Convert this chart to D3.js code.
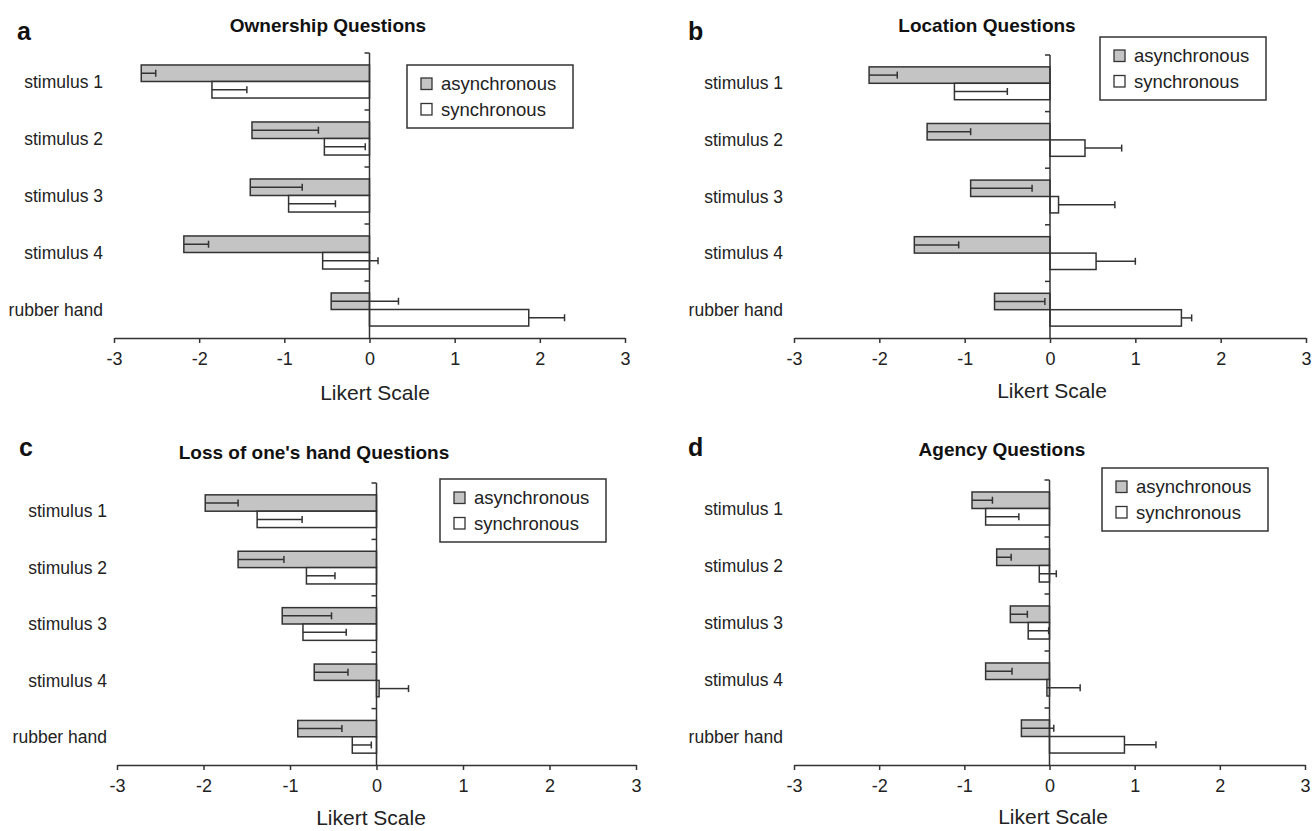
<!DOCTYPE html>
<html>
<head>
<meta charset="utf-8">
<script src="https://cdn.jsdelivr.net/npm/d3@7"></script>
<style>
  html, body { margin: 0; padding: 0; background: #fff; }
  svg { display: block; font-family: "Liberation Sans", Arial, sans-serif; }
  .axis path, .axis line { stroke: #333; stroke-width: 1.5; }
  .axis text { font-size: 18px; fill: #222; }
</style>
</head>
<body>
<svg id="chart" width="1312" height="831"></svg>
<script>
  const categories = ["stimulus 1", "stimulus 2", "stimulus 3", "stimulus 4", "rubber hand"];
  const seriesNames = ["asynchronous", "synchronous"];
  const xTickValues = [-3, -2, -1, 0, 1, 2, 3];

  const ownershipAsync = [-2.68, -1.38, -1.40, -2.18, -0.45];
  const ownershipAsyncErr = [0.17, 0.78, 0.61, 0.29, 0.79];
  const ownershipSync = [-1.85, -0.53, -0.95, -0.55, 1.87];
  const ownershipSyncErr = [0.41, 0.48, 0.55, 0.65, 0.42];

  const locationAsync = [-2.12, -1.44, -0.93, -1.59, -0.65];
  const locationAsyncErr = [0.33, 0.51, 0.72, 0.52, 0.59];
  const locationSync = [-1.12, 0.41, 0.10, 0.54, 1.54];
  const locationSyncErr = [0.62, 0.43, 0.66, 0.46, 0.12];

  const lossAsync = [-1.98, -1.60, -1.09, -0.72, -0.91];
  const lossAsyncErr = [0.38, 0.53, 0.57, 0.39, 0.51];
  const lossSync = [-1.38, -0.81, -0.85, 0.03, -0.28];
  const lossSyncErr = [0.52, 0.33, 0.50, 0.34, 0.22];

  const agencyAsync = [-0.91, -0.62, -0.46, -0.75, -0.33];
  const agencyAsyncErr = [0.24, 0.17, 0.20, 0.31, 0.38];
  const agencySync = [-0.75, -0.12, -0.25, -0.03, 0.88];
  const agencySyncErr = [0.39, 0.20, 0.24, 0.39, 0.37];

  const FILLS = ["#c4c4c4", "#ffffff"];
  const INK = "#333";

  const panels = [
    {
      letter: "a", title: "Ownership Questions",
      values: [ownershipAsync, ownershipSync], errors: [ownershipAsyncErr, ownershipSyncErr],
      x0: 114, x1: 625, top: 53, bottom: 338, labelRight: 103,
      titleX: 328, titleY: 32, letterX: 17, letterY: 40,
      legendX: 407, legendY: 65, likertX: 375, likertY: 400,
    },
    {
      letter: "b", title: "Location Questions",
      values: [locationAsync, locationSync], errors: [locationAsyncErr, locationSyncErr],
      x0: 794, x1: 1306, top: 55, bottom: 338, labelRight: 783,
      titleX: 987, titleY: 32, letterX: 688, letterY: 40,
      legendX: 1100, legendY: 37, likertX: 1052, likertY: 398,
    },
    {
      letter: "c", title: "Loss of one's hand Questions",
      values: [lossAsync, lossSync], errors: [lossAsyncErr, lossSyncErr],
      x0: 117, x1: 636, top: 483, bottom: 765, labelRight: 107,
      titleX: 314, titleY: 459, letterX: 19, letterY: 456,
      legendX: 440, legendY: 479, likertX: 371, likertY: 825,
    },
    {
      letter: "d", title: "Agency Questions",
      values: [agencyAsync, agencySync], errors: [agencyAsyncErr, agencySyncErr],
      x0: 794, x1: 1305, top: 480, bottom: 765, labelRight: 783,
      titleX: 1002, titleY: 456, letterX: 688, letterY: 456,
      legendX: 1102, legendY: 468, likertX: 1053, likertY: 824,
    },
  ];

  const svg = d3.select("#chart");

  function drawPanel(p) {
    const g = svg.append("g");

    const x = d3.scaleLinear().domain([-3, 3]).range([p.x0, p.x1]);
    const y = d3.scaleBand().domain(categories).range([p.top, p.bottom])
      .paddingInner(0.42).paddingOuter(0.21);
    const ySub = d3.scaleBand().domain(seriesNames).range([0, y.bandwidth()]);

    // bars
    seriesNames.forEach((s, si) => {
      g.append("g").selectAll("rect")
        .data(categories)
        .join("rect")
        .attr("x", (c, i) => x(Math.min(0, p.values[si][i])))
        .attr("y", (c) => y(c) + ySub(s))
        .attr("width", (c, i) => Math.abs(x(p.values[si][i]) - x(0)))
        .attr("height", ySub.bandwidth())
        .attr("fill", FILLS[si])
        .attr("stroke", INK)
        .attr("stroke-width", 1.5);
    });

    // error bars, always drawn toward the positive side
    seriesNames.forEach((s, si) => {
      const eg = g.append("g").attr("stroke", INK).attr("stroke-width", 1.5);
      categories.forEach((c, i) => {
        const v = p.values[si][i];
        const e = v + p.errors[si][i];
        const cy = y(c) + ySub(s) + ySub.bandwidth() / 2;
        eg.append("line").attr("x1", x(v)).attr("x2", x(e)).attr("y1", cy).attr("y2", cy);
        eg.append("line").attr("x1", x(e)).attr("x2", x(e)).attr("y1", cy - 3.5).attr("y2", cy + 3.5);
      });
    });

    // x axis
    g.append("g")
      .attr("class", "axis")
      .attr("transform", `translate(0,${p.bottom})`)
      .call(d3.axisBottom(x).tickValues(xTickValues).tickFormat(d3.format("d"))
        .tickSize(5).tickSizeOuter(0).tickPadding(9))
      .call((a) => a.selectAll("text").text((d) => (d < 0 ? "-" + Math.abs(d) : d)));

    // y axis at zero with ticks on category boundaries
    const step = y.step();
    const ya = g.append("g").attr("stroke", INK).attr("stroke-width", 1.5);
    ya.append("line").attr("x1", x(0)).attr("x2", x(0)).attr("y1", p.top).attr("y2", p.bottom);
    categories.forEach((c, i) => {
      const ty = p.top + i * step;
      ya.append("line").attr("x1", x(0) - 5).attr("x2", x(0)).attr("y1", ty).attr("y2", ty);
    });

    // category labels
    g.append("g").selectAll("text")
      .data(categories)
      .join("text")
      .attr("x", p.labelRight)
      .attr("y", (c) => y(c) + y.bandwidth() / 2)
      .attr("dy", "0.35em")
      .attr("text-anchor", "end")
      .attr("font-size", 17.5)
      .attr("fill", "#222")
      .text((c) => c);

    // titles
    g.append("text").attr("x", p.titleX).attr("y", p.titleY)
      .attr("text-anchor", "middle").attr("font-size", 19).attr("font-weight", "bold")
      .attr("fill", "#111").text(p.title);
    g.append("text").attr("x", p.letterX).attr("y", p.letterY)
      .attr("font-size", 25).attr("font-weight", "bold").attr("fill", "#111").text(p.letter);
    g.append("text").attr("x", p.likertX).attr("y", p.likertY)
      .attr("text-anchor", "middle").attr("font-size", 21).attr("fill", "#222").text("Likert Scale");

    // legend
    const lg = g.append("g").attr("transform", `translate(${p.legendX},${p.legendY})`);
    lg.append("rect").attr("width", 166).attr("height", 63)
      .attr("fill", "#fff").attr("stroke", INK).attr("stroke-width", 1.5);
    seriesNames.forEach((s, si) => {
      lg.append("rect").attr("x", 14).attr("y", 13 + si * 25.5)
        .attr("width", 11).attr("height", 11.5)
        .attr("fill", FILLS[si]).attr("stroke", INK).attr("stroke-width", 1.3);
      lg.append("text").attr("x", 34).attr("y", 18.5 + si * 26).attr("dy", "0.35em")
        .attr("font-size", 18.5).attr("fill", "#222").text(s);
    });
  }

  panels.forEach(drawPanel);
</script>
</body>
</html>
